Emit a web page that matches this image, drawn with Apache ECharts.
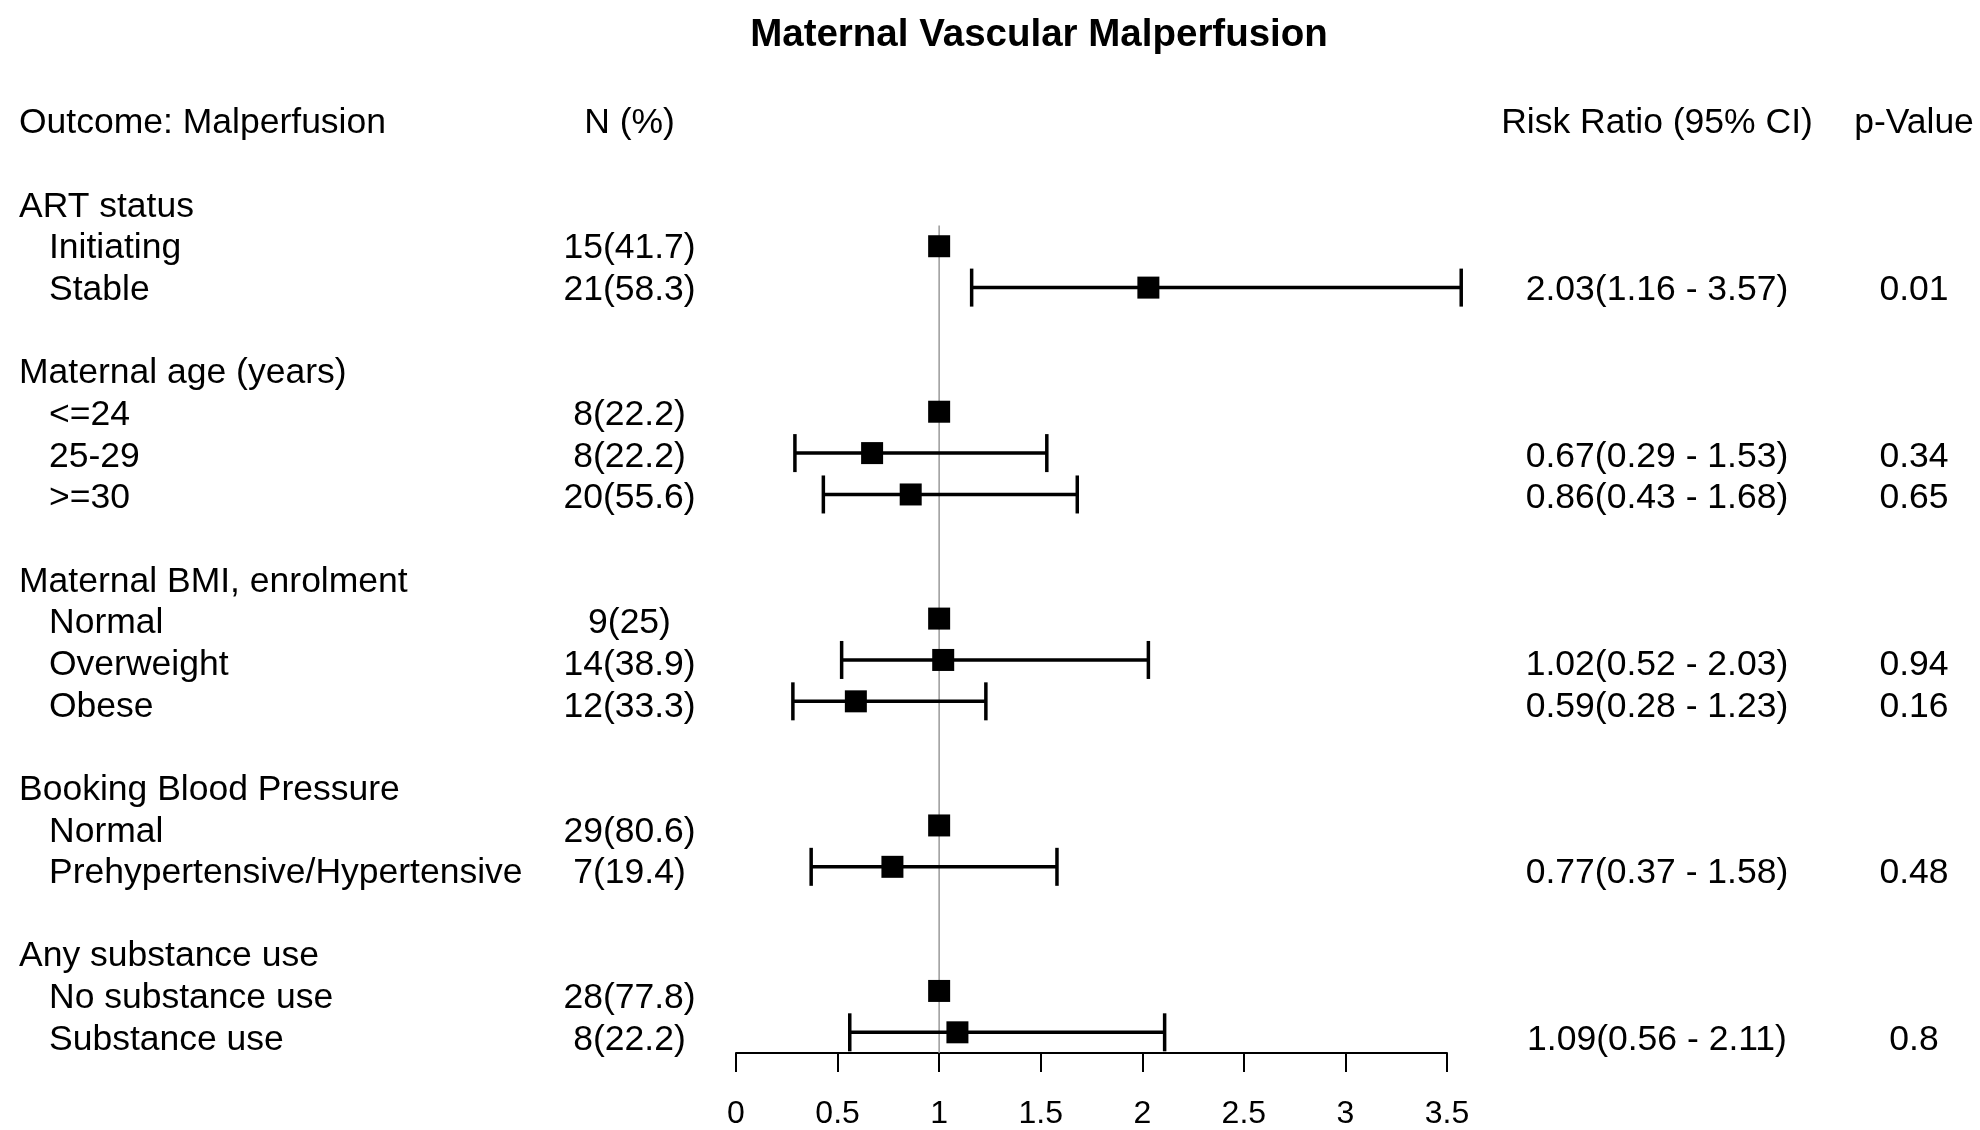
<!DOCTYPE html>
<html>
<head>
<meta charset="utf-8">
<script src="https://cdn.jsdelivr.net/npm/echarts@6/dist/echarts.min.js"></script>
<style>
html,body{margin:0;padding:0;background:#fff;}
#chart{width:1980px;height:1130px;}
</style>
</head>
<body>
<div id="chart"></div>
<script>
// ---------------- DATA ----------------
const titleText = 'Maternal Vascular Malperfusion';
const headerTexts = ['Outcome: Malperfusion', 'N (%)', 'Risk Ratio (95% CI)', 'p-Value'];
const groupNames = ['ART status', 'Maternal age (years)', 'Maternal BMI, enrolment', 'Booking Blood Pressure', 'Any substance use'];
const categories = ['Initiating', 'Stable', '<=24', '25-29', '>=30', 'Normal', 'Overweight', 'Obese', 'Normal', 'Prehypertensive/Hypertensive', 'No substance use', 'Substance use'];
const groupOf = [0, 0, 1, 1, 1, 2, 2, 2, 3, 3, 4, 4];
const nPercent = ['15(41.7)', '21(58.3)', '8(22.2)', '8(22.2)', '20(55.6)', '9(25)', '14(38.9)', '12(33.3)', '29(80.6)', '7(19.4)', '28(77.8)', '8(22.2)'];
const riskRatio = [1, 2.03, 1, 0.67, 0.86, 1, 1.02, 0.59, 1, 0.77, 1, 1.09];
const ciLower = [null, 1.16, null, 0.29, 0.43, null, 0.52, 0.28, null, 0.37, null, 0.56];
const ciUpper = [null, 3.57, null, 1.53, 1.68, null, 2.03, 1.23, null, 1.58, null, 2.11];
const rrText = ['', '2.03(1.16 - 3.57)', '', '0.67(0.29 - 1.53)', '0.86(0.43 - 1.68)', '', '1.02(0.52 - 2.03)', '0.59(0.28 - 1.23)', '', '0.77(0.37 - 1.58)', '', '1.09(0.56 - 2.11)'];
const pValues = ['', '0.01', '', '0.34', '0.65', '', '0.94', '0.16', '', '0.48', '', '0.8'];
const nullValue = 1;
const axisMin = 0, axisMax = 3.5, axisStep = 0.5;

// ---------------- LAYOUT ----------------
const FONT = "'Liberation Sans', Arial, Helvetica, sans-serif";
const TEXT_SIZE = 35.5;
const TEXT_DY = 2;
const ROW_H = 41.65;
const ROW0_Y = 205;
const PLOT_LEFT = 736, PLOT_W = 711;
const COL = { group: 19, item: 49, n: 629.5, rr: 1657, p: 1914 };

// row indices
const headerRow = [], itemRow = [];
let r = 0;
groupNames.forEach((g, gi) => {
  headerRow[gi] = r++;
  categories.forEach((c, i) => { if (groupOf[i] === gi) itemRow[i] = r++; });
  r++;
});
const lastRow = r - 2;
const yMax = lastRow + 0.5;

// text records
const texts = [];
headerTexts.forEach((t, i) => {
  const x = [COL.group, COL.n, COL.rr, COL.p][i];
  texts.push([x, -2, t, i === 0 ? 'left' : 'center']);
});
groupNames.forEach((g, gi) => texts.push([COL.group, headerRow[gi], g, 'left']));
categories.forEach((c, i) => {
  texts.push([COL.item, itemRow[i], c, 'left']);
  texts.push([COL.n, itemRow[i], nPercent[i], 'center']);
  if (rrText[i]) texts.push([COL.rr, itemRow[i], rrText[i], 'center']);
  if (pValues[i]) texts.push([COL.p, itemRow[i], pValues[i], 'center']);
});

const ciData = [];
categories.forEach((c, i) => {
  if (ciLower[i] != null) ciData.push([ciLower[i], ciUpper[i], itemRow[i]]);
});
const pointData = categories.map((c, i) => [riskRatio[i], itemRow[i]]);

const chart = echarts.init(document.getElementById('chart'));
const gridTop0 = ROW0_Y - 0.5 * ROW_H;
const gridH0 = (yMax + 0.5) * ROW_H;
chart.setOption({
  backgroundColor: '#fff',
  animation: false,
  title: {
    text: titleText,
    left: 1034, top: 11, textAlign: 'center',
    textStyle: { fontFamily: FONT, fontSize: 38.5, fontWeight: 'bold', color: '#000' }
  },
  grid: [
    { left: PLOT_LEFT, width: PLOT_W, top: gridTop0, height: gridH0 },
    { left: 0, width: 1980, top: gridTop0 - 2 * ROW_H, height: gridH0 + 2 * ROW_H }
  ],
  xAxis: [
    {
      gridIndex: 0, type: 'value', min: axisMin, max: axisMax, interval: axisStep,
      position: 'bottom',
      axisLine: { show: true, onZero: false, lineStyle: { color: '#000', width: 2 } },
      axisTick: { show: true, length: 19, lineStyle: { color: '#000', width: 2 } },
      axisLabel: { show: true, color: '#000', fontFamily: FONT, fontSize: 32, margin: 45 },
      splitLine: { show: false }
    },
    { gridIndex: 1, type: 'value', min: 0, max: 1980, show: false }
  ],
  yAxis: [
    { gridIndex: 0, type: 'value', inverse: true, min: -0.5, max: yMax, show: false },
    { gridIndex: 1, type: 'value', inverse: true, min: -2.5, max: yMax, show: false }
  ],
  series: [
    {
      type: 'line', xAxisIndex: 0, yAxisIndex: 0, z: 1,
      data: [[nullValue, 0.5], [nullValue, yMax]],
      symbol: 'none', silent: true,
      lineStyle: { color: '#9a9a9a', width: 1.5 }
    },
    {
      type: 'custom', xAxisIndex: 0, yAxisIndex: 0, z: 2,
      data: ciData,
      renderItem: function (params, api) {
        const p1 = api.coord([api.value(0), api.value(2)]);
        const p2 = api.coord([api.value(1), api.value(2)]);
        const capH = 19;
        const st = { stroke: '#000', lineWidth: 3.5 };
        return {
          type: 'group',
          children: [
            { type: 'line', shape: { x1: p1[0], y1: p1[1], x2: p2[0], y2: p2[1] }, style: st },
            { type: 'line', shape: { x1: p1[0], y1: p1[1] - capH, x2: p1[0], y2: p1[1] + capH }, style: st },
            { type: 'line', shape: { x1: p2[0], y1: p2[1] - capH, x2: p2[0], y2: p2[1] + capH }, style: st }
          ]
        };
      }
    },
    {
      type: 'scatter', xAxisIndex: 0, yAxisIndex: 0, z: 3,
      data: pointData, symbol: 'rect', symbolSize: 22,
      itemStyle: { color: '#000', opacity: 1 }
    },
    {
      type: 'custom', xAxisIndex: 1, yAxisIndex: 1, z: 4,
      data: texts,
      renderItem: function (params, api) {
        const t = texts[params.dataIndex];
        const p = api.coord([t[0], t[1]]);
        return {
          type: 'text', x: p[0], y: p[1] + TEXT_DY,
          style: { text: t[2], fill: '#000', font: TEXT_SIZE + 'px ' + FONT, textAlign: t[3], textVerticalAlign: 'middle' }
        };
      }
    }
  ]
});
</script>
</body>
</html>
